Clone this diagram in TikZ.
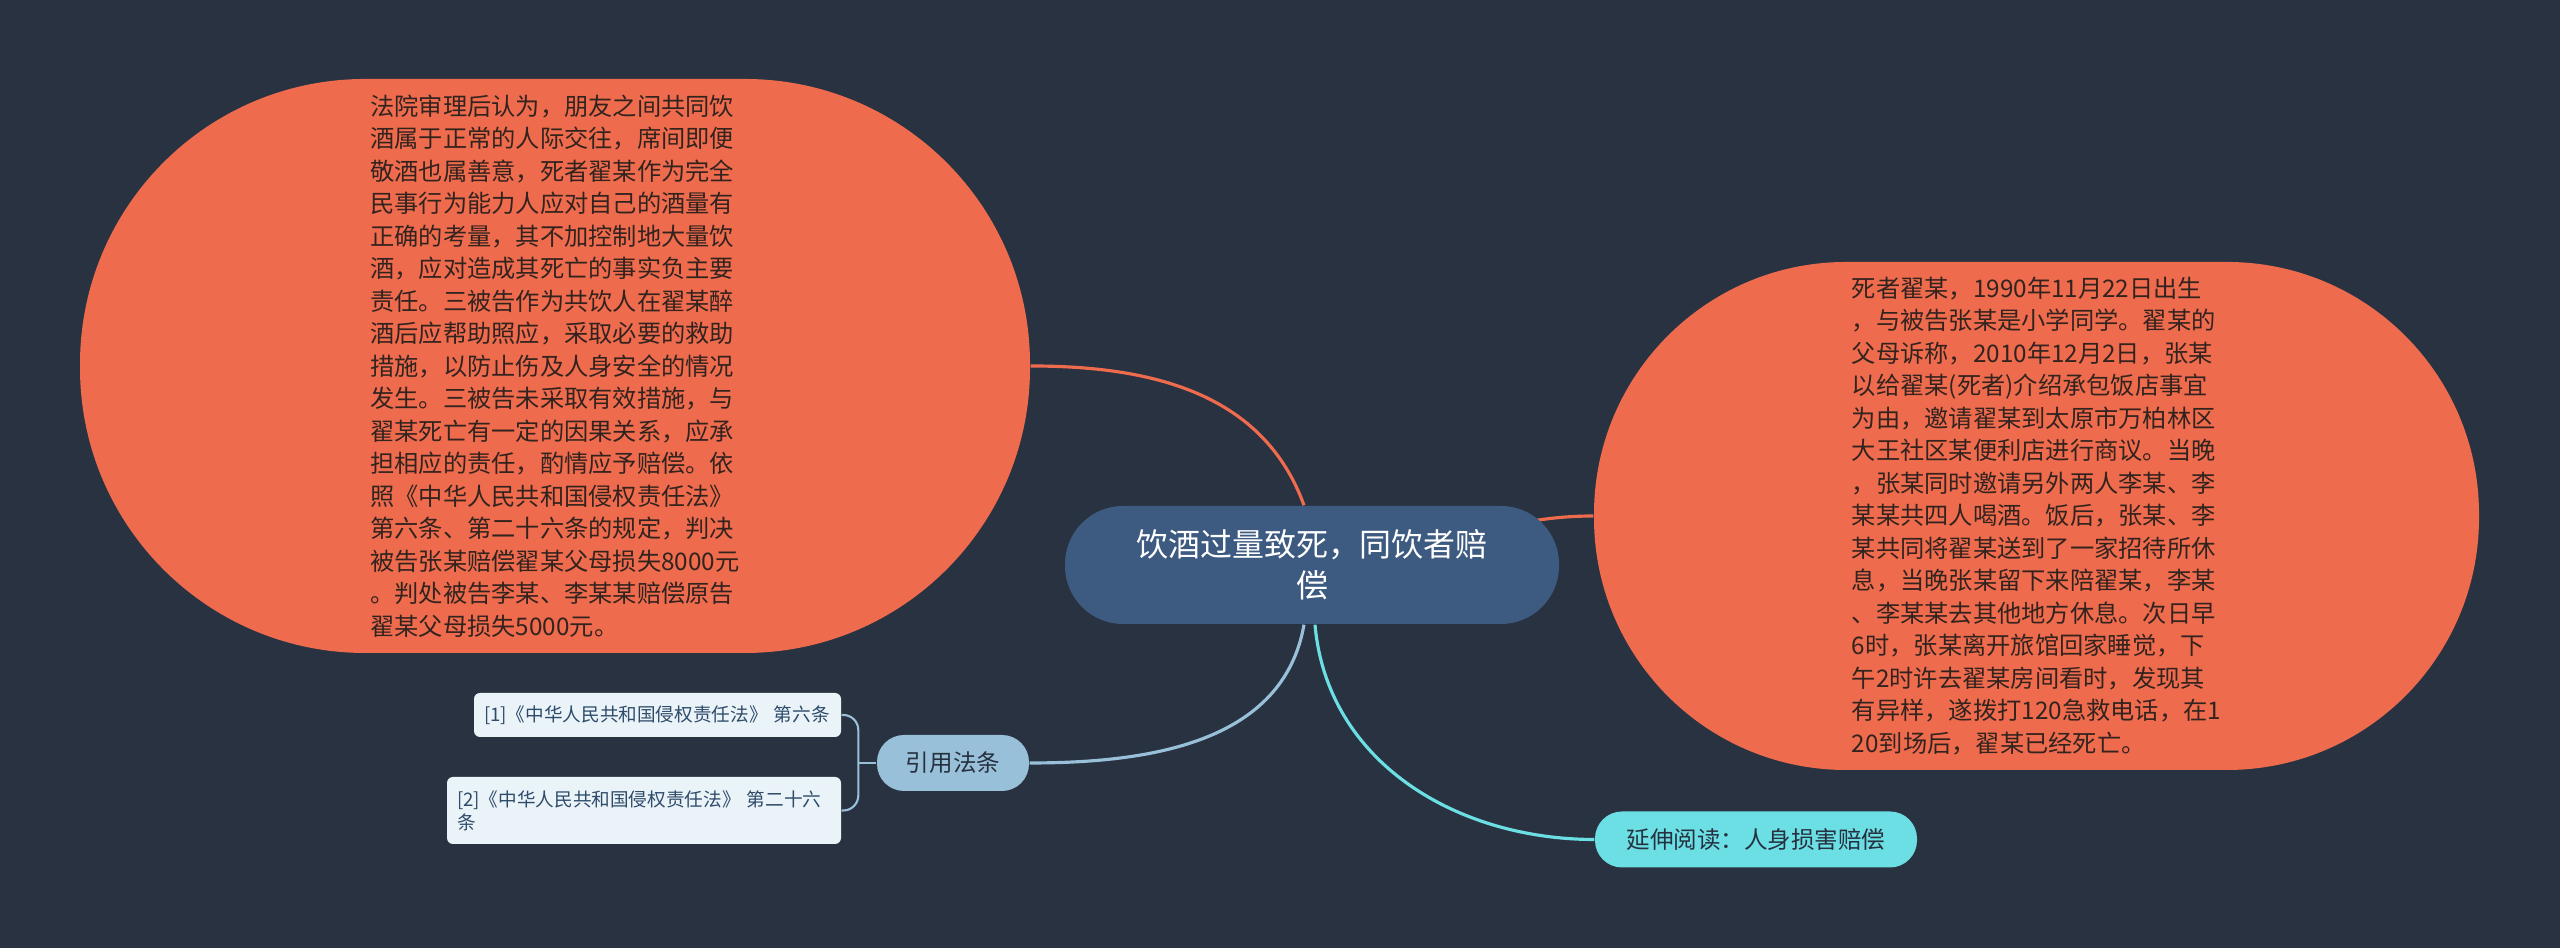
\documentclass[tikz,border=0pt]{standalone}
\usepackage{fontspec}
\newfontfamily\cjk{Noto Sans CJK SC}
\usepackage{xcolor}
\usepackage{tikz}
\pgfdeclarelayer{back}
\pgfdeclarelayer{links}
\pgfsetlayers{back,links,main}
\definecolor{bgDark}{HTML}{293241}
\definecolor{coral}{HTML}{EE6C4D}
\definecolor{topicBlue}{HTML}{3D5A80}
\definecolor{skyBlue}{HTML}{98C1D9}
\definecolor{aqua}{HTML}{6CDFE4}
\definecolor{storyInk}{HTML}{33231F}
\definecolor{pillInk}{HTML}{263140}
\definecolor{citeFill}{HTML}{EAF3F8}
\definecolor{citeInk}{HTML}{2E4B6A}
\tikzset{
  % Mind-map styles
  topic/.style={rectangle, rounded corners=0.58cm, minimum width=4.94cm, minimum height=1.18cm, fill=topicBlue, text=white, align=center, inner sep=0pt, font=\cjk\fontsize{9.1}{11.7}\selectfont},
  story/.style={rectangle, rounded corners=#1, fill=coral, text=storyInk, align=left, inner sep=0pt, font=\cjk\fontsize{6.9}{9.25}\selectfont},
  pill/.style={rectangle, rounded corners=0.27cm, minimum height=0.56cm, fill=#1, text=pillInk, inner sep=0pt, font=\cjk\fontsize{6.7}{8}\selectfont},
  citebox/.style={rectangle, rounded corners=0.06cm, fill=citeFill, text=citeInk, align=left, inner xsep=0.1cm, inner ysep=0pt, font=\cjk\fontsize{5.3}{6.6}\selectfont},
  link/.style={draw=#1, line width=0.9pt},
}
\begin{document}
\begin{tikzpicture}
  \useasboundingbox (0,0) rectangle (25.6,9.48);
  \begin{pgfonlayer}{back}
    \fill[bgDark] (0,0) rectangle (25.6,9.48);
  \end{pgfonlayer}
  % Central topic
  \node[topic] (main) at (13.12,3.83) {饮酒过量致死，同饮者赔\\偿};
  % Court ruling (left) and case facts (right)
  \node[story=2.85cm, minimum width=9.5cm, minimum height=5.74cm] (verdict) at (5.55,5.82) {法院审理后认为，朋友之间共同饮\\酒属于正常的人际交往，席间即便\\敬酒也属善意，死者翟某作为完全\\民事行为能力人应对自己的酒量有\\正确的考量，其不加控制地大量饮\\酒，应对造成其死亡的事实负主要\\责任。三被告作为共饮人在翟某醉\\酒后应帮助照应，采取必要的救助\\措施，以防止伤及人身安全的情况\\发生。三被告未采取有效措施，与\\翟某死亡有一定的因果关系，应承\\担相应的责任，酌情应予赔偿。依\\照《中华人民共和国侵权责任法》\\第六条、第二十六条的规定，判决\\被告张某赔偿翟某父母损失8000元\\。判处被告李某、李某某赔偿原告\\翟某父母损失5000元。};
  \node[story=2.52cm, minimum width=8.85cm, minimum height=5.08cm] (facts) at (20.365,4.32) {死者翟某，1990年11月22日出生\\，与被告张某是小学同学。翟某的\\父母诉称，2010年12月2日，张某\\以给翟某(死者)介绍承包饭店事宜\\为由，邀请翟某到太原市万柏林区\\大王社区某便利店进行商议。当晚\\，张某同时邀请另外两人李某、李\\某某共四人喝酒。饭后，张某、李\\某共同将翟某送到了一家招待所休\\息，当晚张某留下来陪翟某，李某\\、李某某去其他地方休息。次日早\\6时，张某离开旅馆回家睡觉，下\\午2时许去翟某房间看时，发现其\\有异样，遂拨打120急救电话，在1\\20到场后，翟某已经死亡。};
  % Cited articles
  \node[pill=skyBlue, minimum width=1.52cm] (laws) at (9.53,1.85) {引用法条};
  \node[citebox, text width=3.47cm, minimum height=0.44cm] (law1) at (6.575,2.33) {[1]《中华人民共和国侵权责任法》 第六条};
  \node[citebox, text width=3.74cm, minimum height=0.67cm] (law2) at (6.44,1.375) {[2]《中华人民共和国侵权责任法》 第二十六\\条};
  % Further reading
  \node[pill=aqua, minimum width=3.22cm] (more) at (17.56,1.085) {延伸阅读：人身损害赔偿};
  % Connectors
  \begin{pgfonlayer}{links}
    \draw[link=coral] ([xshift=-0.08cm]main.north) to[out=110,in=0] (verdict.east);
    \draw[link=coral] (main.center) to[out=0,in=180] (facts.west);
    \draw[link=skyBlue] ([xshift=-0.08cm]main.south) to[out=-100,in=0] (laws.east);
    \draw[link=aqua] ([xshift=0.03cm]main.south) to[out=-85,in=180] (more.west);
    \draw[link=skyBlue, line width=0.6pt] (laws.west) -- ++(-0.18,0) coordinate (fork);
    \draw[link=skyBlue, line width=0.6pt, rounded corners=0.15cm] (law1.east) -| (fork) |- (law2.east);
  \end{pgfonlayer}
\end{tikzpicture}
\end{document}
